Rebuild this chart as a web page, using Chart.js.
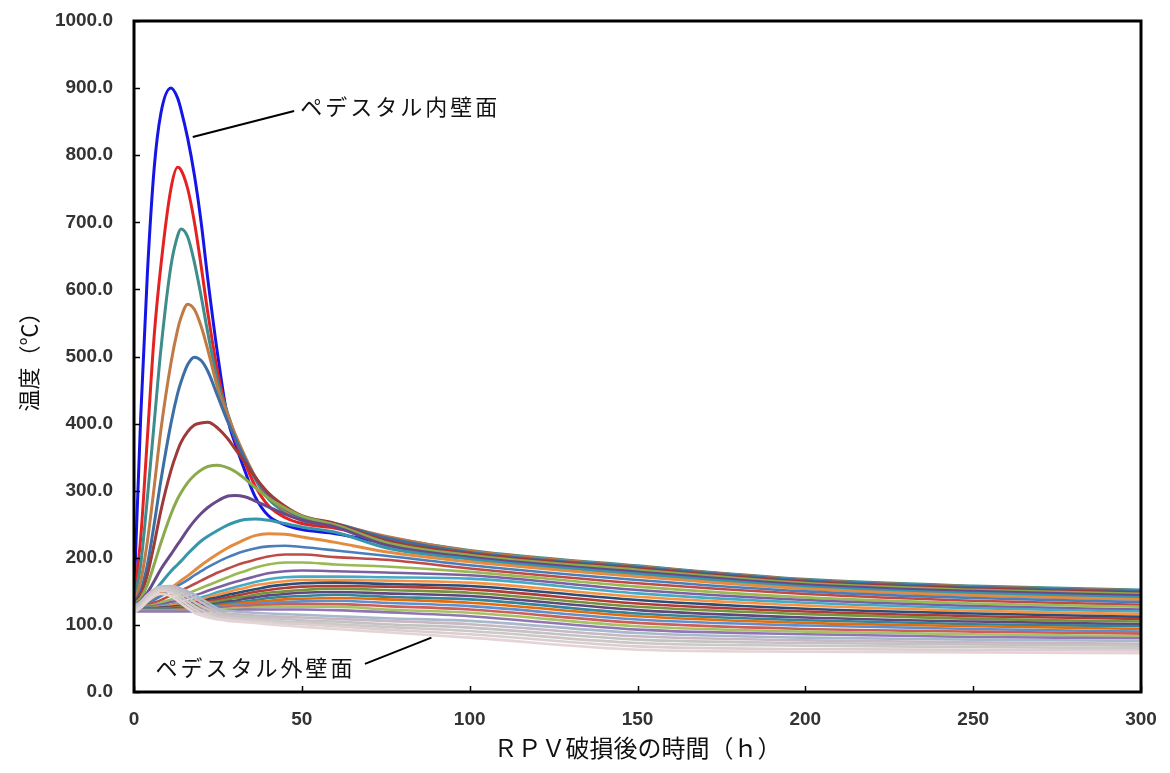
<!DOCTYPE html>
<html><head><meta charset="utf-8">
<script src="https://cdn.jsdelivr.net/npm/chart.js@4/dist/chart.umd.min.js"></script>
<style>html,body{margin:0;padding:0;background:#fff;overflow:hidden}#wrap{width:1170px;height:773px}</style>
</head><body><div id="wrap"><canvas id="c" width="1170" height="773"></canvas></div>
<script>
// time axis (h)
const timeHours = [0,2,4,6,8,11,13,14,16,18,20,22,25,28,30,33,36,40,45,50,60,75,100,150,200,250,300];

// temperature (°C) per wall node, inner wall first
const temp00 = [140,410,625,780,862,900,885,868,825,770,700,615,500,405,372,330,292,263,249,242,236,222,203,183,164,155,149];
const temp01 = [138,230,380,530,635,750,782,778,750,700,635,565,475,410,378,342,308,278,260,251,244,229,209,187,167,157,151];
const temp02 = [136,190,290,400,510,635,680,690,678,640,590,535,462,414,384,350,318,288,268,256,248,231,211,188,168,158,152];
const temp03 = [134,165,225,305,390,490,540,558,578,570,545,510,452,412,386,352,322,292,271,258,250,232,210,187,167,157,151];
const temp04 = [133,150,190,250,315,400,445,462,488,499,494,478,440,402,380,348,321,294,273,260,251,230,208,186,166,156,150];
const temp05 = [132,145,175,220,270,330,360,372,388,398,401,402,393,377,363,343,321,297,277,263,251,226,206,184,164,154,148];
const temp06 = [131,140,160,190,222,265,288,297,312,323,331,336,338,334,329,318,305,289,274,262,249,223,204,182,162,152,146];
const temp07 = [130,136,148,165,183,205,220,227,242,255,266,275,285,292,293,291,285,276,265,256,246,219,201,179,160,150,144];
const temp08 = [130,133,140,150,162,180,190,195,206,216,225,232,241,249,253,257,258,256,251,246,238,215,198,176,157,147,141];
const temp09 = [129,131,135,141,147,155,162,166,173,181,189,196,206,215,220,227,233,236,235,231,223,209,194,172,154,144,138];
const temp10 = [128,129,132,137,143,152,158,161,167,174,180,186,194,201,205,210,214,217,218,216,211,203,189,167,150,140,134];
const temp11 = [128,128,130,133,137,144,149,151,156,161,166,171,178,184,188,193,197,202,205,205,201,197,184,162,146,136,130];
const temp12 = [127,127,128,130,133,138,141,143,147,151,155,159,165,171,175,180,185,190,193,193,190,187,179,157,141,132,127];
const temp13 = [127,127,127,128,130,134,136,138,141,144,147,151,156,161,164,168,172,177,180,181,180,178,174,152,137,128,123];
const temp14 = [126,126,126,127,128,130,132,133,135,138,141,144,149,153,156,160,164,168,171,172,172,171,169,147,133,125,120];
const temp15 = [125,125,125,126,127,129,130,131,133,135,138,141,145,149,152,155,159,162,165,167,167,166,163,142,129,121,116];
const temp16 = [125,125,125,125,126,127,128,129,131,133,135,138,141,145,147,150,153,157,160,162,163,161,158,137,124,117,112];
const temp17 = [124,124,124,124,125,126,127,128,129,131,133,135,138,141,143,146,149,152,155,157,158,157,153,132,120,113,109];
const temp18 = [124,124,124,124,124,125,126,127,128,129,131,133,135,138,140,142,145,148,150,152,154,152,148,127,116,109,105];
const temp19 = [123,123,123,123,123,124,125,125,126,127,129,130,132,135,136,139,141,144,146,148,149,147,143,122,111,105,101];
const temp20 = [123,123,123,123,123,123,124,124,125,126,127,128,130,132,133,135,137,140,142,143,145,142,138,117,107,101,98];
const temp21 = [122,122,122,122,122,122,123,123,124,125,126,127,128,130,131,133,134,136,138,139,140,138,133,113,103,98,94];
const temp22 = [122,122,122,122,122,122,122,122,123,124,125,126,127,128,129,130,131,133,134,135,136,133,128,108,99,94,90];
const temp23 = [121,121,121,121,121,121,121,121,122,122,123,124,125,126,127,128,129,130,131,131,131,128,123,103,94,90,87];
const temp24 = [121,121,121,121,121,121,121,121,121,121,122,122,123,124,125,125,126,127,127,127,127,123,118,98,90,86,83];
const temp25 = [120,120,120,120,120,120,120,120,120,120,120,121,121,122,122,123,123,123,123,123,122,119,113,93,86,82,80];
const temp26 = [128,135,145,152,156,158,156,154,150,145,139,133,124,121,120,119,118,117,116,115,113,110,106,88,81,78,76];
const temp27 = [126,134,145,153,157,157,154,151,146,140,134,128,120,117,116,115,114,113,112,111,109,106,101,83,77,74,72];
const temp28 = [124,133,144,152,156,155,150,147,141,134,128,123,116,114,113,112,111,110,109,107,105,101,96,78,73,71,69];
const temp29 = [122,131,142,150,154,152,146,142,135,128,122,118,113,111,110,109,108,107,105,104,101,97,91,73,69,67,65];
const temp30 = [120,128,139,147,151,148,141,137,130,123,117,114,110,108,107,106,105,104,102,101,98,93,86,68,64,63,62];
const temp31 = [118,125,135,143,146,143,136,132,125,118,114,111,108,106,105,104,103,101,99,97,94,89,81,63,60,59,58];

const seriesColors = [
  '#1515E6','#E52222','#3F8C8C','#C07A45','#3C6FA3','#9E3A3A','#8BAA4D','#684A8A',
  '#3796AC','#E38B3E','#4A7EBA','#BE4B48','#98B954','#7D60A0','#46AAC5','#F69240',
  '#2C4D75','#B03B38','#76923C','#5F497A','#31859C','#E46C0A','#5E8FCB','#CC5F5B',
  '#A6C264','#9077B4','#A9B9CC','#C7B8C4','#C3C3C3','#CFC6C8','#D9CFD0','#E6D3D5'
];

const xTickValues = [0,50,100,150,200,250,300];
const xTickLabels = ['0','50','100','150','200','250','300'];
const yTickValues = [0,100,200,300,400,500,600,700,800,900,1000];
const yTickLabels = ['0.0','100.0','200.0','300.0','400.0','500.0','600.0','700.0','800.0','900.0','1000.0'];

const xTitle = 'ＲＰＶ破損後の時間（ｈ）';
const yTitle = '温度（℃）';
const innerLabel = 'ペデスタル内壁面';
const outerLabel = 'ペデスタル外壁面';
// leader lines in data units: [x1, y1, x2, y2], label anchor [x, y]
const innerLeader = [17.5, 827, 47.7, 866];
const innerAnchor = [49.5, 872];
const outerLeader = [68.8, 42, 88.6, 81];
const outerAnchor = [66.0, 37];

const series = [temp00,temp01,temp02,temp03,temp04,temp05,temp06,temp07,temp08,temp09,
  temp10,temp11,temp12,temp13,temp14,temp15,temp16,temp17,temp18,temp19,temp20,temp21,
  temp22,temp23,temp24,temp25,temp26,temp27,temp28,temp29,temp30,temp31];

const datasets = series.map((vals, i) => ({
  data: timeHours.map((t, k) => ({x: t, y: vals[k]})),
  borderColor: seriesColors[i],
  borderWidth: i < 10 ? 3 : 2.6,
  pointRadius: 0,
  fill: false,
  cubicInterpolationMode: 'monotone',
  order: series.length - i
}));

const framePlugin = {
  id: 'frame',
  afterDatasetsDraw(chart) {
    const {ctx, chartArea: a, scales: {x, y}} = chart;
    ctx.save();
    ctx.strokeStyle = '#000';
    ctx.lineWidth = 1.5;
    yTickValues.forEach(v => {
      const py = Math.round(y.getPixelForValue(v)) + 0.5;
      ctx.beginPath(); ctx.moveTo(a.left, py); ctx.lineTo(a.left + 6, py); ctx.stroke();
    });
    xTickValues.forEach(v => {
      const px = Math.round(x.getPixelForValue(v)) + 0.5;
      ctx.beginPath(); ctx.moveTo(px, a.bottom); ctx.lineTo(px, a.bottom - 6); ctx.stroke();
    });
    ctx.lineWidth = 3;
    ctx.strokeRect(a.left, a.top, a.right - a.left, a.bottom - a.top);
    ctx.lineWidth = 2;
    [innerLeader, outerLeader].forEach(L => {
      ctx.beginPath();
      ctx.moveTo(x.getPixelForValue(L[0]), y.getPixelForValue(L[1]));
      ctx.lineTo(x.getPixelForValue(L[2]), y.getPixelForValue(L[3]));
      ctx.stroke();
    });
    ctx.fillStyle = '#111';
    ctx.font = '22px "Noto Sans CJK JP"';
    try { ctx.letterSpacing = '3px'; } catch(e) {}
    ctx.textBaseline = 'middle';
    ctx.textAlign = 'left';
    ctx.fillText(innerLabel, x.getPixelForValue(innerAnchor[0]), y.getPixelForValue(innerAnchor[1]));
    ctx.textAlign = 'right';
    ctx.fillText(outerLabel, x.getPixelForValue(outerAnchor[0]), y.getPixelForValue(outerAnchor[1]));
    ctx.restore();
  }
};

new Chart(document.getElementById('c').getContext('2d'), {
  type: 'line',
  data: {datasets},
  options: {
    responsive: false,
    animation: false,
    devicePixelRatio: 1,
    layout: {padding: {left: 0, top: 21, right: 29, bottom: 0}},
    plugins: {legend: {display: false}, tooltip: {enabled: false}},
    scales: {
      x: {
        type: 'linear', min: 0, max: 300,
        afterBuildTicks: s => { s.ticks = xTickValues.map(v => ({value: v})); },
        grid: {display: false, drawTicks: false},
        border: {display: false},
        ticks: {
          padding: 16, maxRotation: 0, autoSkip: false,
          color: '#333', font: {family: 'Liberation Sans', size: 19, weight: 'bold'},
          callback: (v, i) => xTickLabels[i]
        },
        title: {display: true, text: xTitle, color: '#111',
          font: {family: 'Noto Sans CJK JP', size: 24}, padding: {top: 0, bottom: 11}},
        afterFit: s => { s.height = 81; s.paddingLeft = 0; s.paddingRight = 0; }
      },
      y: {
        type: 'linear', min: 0, max: 1000,
        afterBuildTicks: s => { s.ticks = yTickValues.map(v => ({value: v})); },
        grid: {display: false, drawTicks: false},
        border: {display: false},
        ticks: {
          padding: 21, autoSkip: false,
          color: '#333', font: {family: 'Liberation Sans', size: 19, weight: 'bold'},
          callback: (v, i) => yTickLabels[i]
        },
        title: {display: true, text: yTitle, color: '#111',
          font: {family: 'Noto Sans CJK JP', size: 22}, padding: {top: 15, bottom: 0}},
        afterFit: s => { s.width = 134; s.paddingTop = 0; s.paddingBottom = 0; }
      }
    }
  },
  plugins: [framePlugin]
});
</script></body></html>
